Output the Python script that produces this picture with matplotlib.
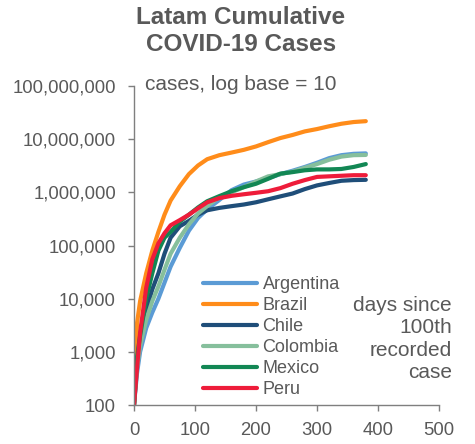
import matplotlib.pyplot as plt
from matplotlib.ticker import FixedLocator, NullLocator, FuncFormatter

plt.rcParams['font.family'] = ['Liberation Sans', 'DejaVu Sans']

# days since 100th case
days = [0, 5, 10, 20, 30, 40, 50, 60, 75, 90, 105, 120, 140, 160, 180,
        200, 220, 240, 260, 280, 300, 320, 340, 360, 380]

argentina = [100, 400, 1000, 2800, 5500, 10000, 20000, 40000, 90000, 190000,
             330000, 480000, 720000, 1100000, 1400000, 1600000, 1850000,
             2200000, 2550000, 3000000, 3600000, 4400000, 5000000, 5300000,
             5400000]
brazil = [100, 3500, 9000, 30000, 80000, 180000, 380000, 700000, 1300000,
          2200000, 3200000, 4200000, 5000000, 5600000, 6300000, 7300000,
          8800000, 10500000, 12000000, 14000000, 15500000, 17500000,
          19500000, 21000000, 21800000]
chile = [100, 600, 1800, 6000, 15000, 30000, 70000, 140000, 230000, 290000,
         380000, 460000, 510000, 550000, 590000, 650000, 740000, 840000,
         950000, 1150000, 1350000, 1500000, 1650000, 1700000, 1720000]
colombia = [100, 500, 1300, 4000, 9000, 17000, 35000, 70000, 140000, 250000,
            400000, 550000, 820000, 1000000, 1250000, 1600000, 2000000,
            2200000, 2450000, 2900000, 3400000, 4100000, 4700000, 5000000,
            5050000]
mexico = [100, 800, 2000, 10000, 30000, 80000, 140000, 180000, 280000,
          380000, 520000, 680000, 850000, 1050000, 1250000, 1450000,
          1800000, 2250000, 2400000, 2600000, 2700000, 2700000, 2750000,
          3000000, 3400000]
peru = [100, 500, 2300, 16000, 55000, 110000, 170000, 240000, 300000,
        380000, 500000, 650000, 780000, 860000, 920000, 980000, 1050000,
        1200000, 1450000, 1700000, 1950000, 2000000, 2050000, 2100000,
        2100000]

countries = ['Argentina', 'Brazil', 'Chile', 'Colombia', 'Mexico', 'Peru']
series = [argentina, brazil, chile, colombia, mexico, peru]
colors = ['#5B9BD5', '#FF8C1A', '#1F4E79', '#86BF9C', '#128754', '#EE1C3A']

yticks = [100, 1000, 10000, 100000, 1000000, 10000000, 100000000]
xticks = [0, 100, 200, 300, 400, 500]

grey = '#595959'
spine_grey = '#7F7F7F'

fig = plt.figure(figsize=(4.75, 4.44), dpi=100)
ax = fig.add_axes([134 / 475, 1 - 405 / 444, 305 / 475, 319 / 444])

for name, vals, c in zip(countries, series, colors):
    ax.plot(days, vals, color=c, lw=3, label=name, solid_capstyle='round')

ax.set_yscale('log')
ax.set_ylim(100, 100000000)
ax.set_xlim(0, 500)
ax.yaxis.set_major_locator(FixedLocator(yticks))
ax.yaxis.set_minor_locator(NullLocator())
ax.yaxis.set_major_formatter(FuncFormatter(lambda v, p: '{:,}'.format(int(round(v)))))
ax.set_xticks(xticks)

for side in ['top', 'right']:
    ax.spines[side].set_visible(False)
for side in ['left', 'bottom']:
    ax.spines[side].set_color(spine_grey)
    ax.spines[side].set_linewidth(1)
ax.tick_params(axis='both', colors=spine_grey, labelcolor=grey,
               labelsize=13.3, length=4, width=1)
ax.tick_params(axis='y', pad=9)
ax.tick_params(axis='x', pad=8)

ax.legend(loc='upper left', bbox_to_anchor=(203 / 475, 1 - 276 / 444),
          bbox_transform=fig.transFigure, frameon=False, fontsize=13,
          handlelength=3.0, handletextpad=0.3, labelspacing=0.22,
          borderpad=0, borderaxespad=0, labelcolor=grey)

fig.text(241 / 475, 1 - 31 / 444, 'Latam Cumulative\nCOVID-19 Cases',
         ha='center', va='center', fontsize=17.5, fontweight='bold',
         color=grey, linespacing=1.22)
fig.text(145 / 475, 1 - 85 / 444, 'cases, log base = 10', ha='left',
         va='center', fontsize=15, color=grey)
fig.text(452 / 475, 1 - 339 / 444, 'days since\n100th\nrecorded\ncase',
         ha='right', va='center', fontsize=15, color=grey, linespacing=1.24)

plt.savefig('out.png', dpi=100)
